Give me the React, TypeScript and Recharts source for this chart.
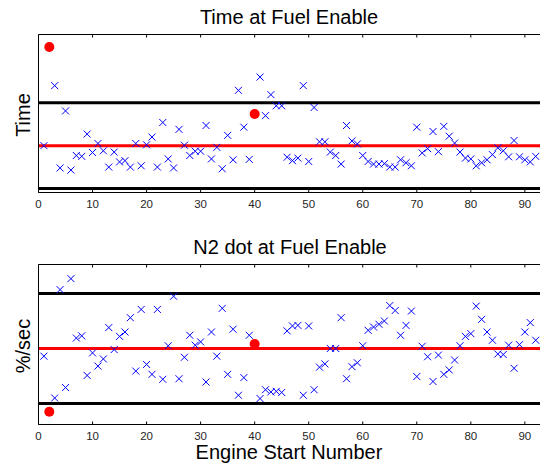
import { ReferenceLine, Scatter, ScatterChart, XAxis, YAxis } from "recharts";

// engine start number runs 1..92, one value per start
const timeAtFuelEnable = [
  0.0, 2.3, 1.4, -0.52, 0.81, -0.57, -0.23, -0.25, 0.27, -0.16,
  0.05, -0.12, -0.5, -0.15, -0.38, -0.35, -0.5, 0.05, -0.47, 0.02,
  0.2, -0.5, 0.54, -0.31, -0.52, 0.38, 0.01, -0.23, -0.13, -0.13,
  0.47, -0.31, -0.04, -0.54, 0.24, -0.33, 1.29, 0.43, -0.32, 0.74,
  1.6, 0.7, 1.19, 0.93, 0.93, -0.27, -0.35, -0.29, 1.4, -0.37,
  0.89, 0.09, 0.09, -0.15, -0.23, -0.43, 0.47, 0.11, 0.04, -0.23,
  -0.37, -0.43, -0.43, -0.42, -0.5, -0.5, -0.33, -0.4, -0.47, 0.43,
  -0.17, -0.07, 0.33, -0.14, 0.45, 0.22, 0.06, -0.15, -0.29, -0.31,
  -0.47, -0.4, -0.33, -0.21, -0.05, -0.12, -0.26, 0.12, -0.26, -0.33,
  -0.38, -0.25,
];

const n2DotAtFuelEnable = [
  -0.14, -1.15, -0.9, 1.07, -0.71, 1.27, 0.19, 0.23, -0.49, -0.08,
  -0.32, -0.19, 0.38, -0.02, 0.22, 0.3, 0.56, -0.41, 0.71, -0.29,
  -0.47, 0.71, -0.56, 0.05, 0.95, -0.55, -0.16, 0.24, 0.06, 0.12,
  -0.61, 0.3, -0.14, 0.73, -0.47, 0.35, -0.85, -0.53, 0.24, 0.08,
  -0.91, -0.75, -0.79, -0.78, -0.8, 0.32, 0.41, 0.42, -0.85, 0.41,
  -0.75, -0.34, -0.28, 0.0, 0.0, 0.56, -0.55, -0.33, -0.26, 0.05,
  0.33, 0.39, 0.44, 0.5, 0.78, 0.69, 0.24, 0.42, 0.68, -0.51,
  0.04, -0.15, -0.6, -0.12, -0.47, -0.39, -0.21, 0.05, 0.22, 0.27,
  0.77, 0.53, 0.3, 0.15, -0.1, -0.11, 0.06, -0.36, 0.07, 0.3,
  0.47, 0.15,
];

// starts highlighted with a red dot
const flaggedStarts = [2, 40];

const meanLine = 0;
const limitLines = [1, -1];
const xTicks = [0, 10, 20, 30, 40, 50, 60, 70, 80, 90];

const FONT = "'Liberation Sans', Arial, sans-serif";

function toPoints(values: number[]) {
  return values.map((v, i) => ({ n: i + 1, v }));
}

function Cross(props: any) {
  const { cx, cy } = props;
  if (cx == null || cy == null) return <g />;
  const s = 3.5;
  return (
    <g stroke="#0000ff" strokeWidth={1} fill="none">
      <line x1={cx - s} y1={cy - s} x2={cx + s} y2={cy + s} />
      <line x1={cx - s} y1={cy + s} x2={cx + s} y2={cy - s} />
    </g>
  );
}

function Dot(props: any) {
  const { cx, cy } = props;
  if (cx == null || cy == null) return <g />;
  return <circle cx={cx} cy={cy} r={5} fill="#ff0000" />;
}

function ControlPanel({
  values,
  yDomain,
  height,
  bottom,
}: {
  values: number[];
  yDomain: [number, number];
  height: number;
  bottom: number;
}) {
  const pts = toPoints(values);
  const crosses = pts.filter(p => !flaggedStarts.includes(p.n));
  const dots = pts.filter(p => flaggedStarts.includes(p.n));
  return (
    <ScatterChart width={540} height={height} margin={{ top: 33.5, right: 0, left: 37.5, bottom }}>
      <XAxis
        xAxisId="bottom"
        type="number"
        dataKey="n"
        domain={[0, 92.8]}
        allowDataOverflow
        ticks={xTicks}
        height={30}
        tickSize={-3}
        tickMargin={10.5}
        stroke="#000"
        tick={{ fontSize: 11.5, fill: "#262626", fontFamily: FONT }}
      />
      <XAxis
        xAxisId="top"
        orientation="top"
        type="number"
        dataKey="n"
        domain={[0, 92.8]}
        allowDataOverflow
        ticks={xTicks}
        height={1}
        tickSize={-3}
        stroke="#000"
        tick={() => <g />}
      />
      <YAxis
        type="number"
        dataKey="v"
        domain={yDomain}
        allowDataOverflow
        width={1}
        tick={false}
        tickLine={false}
        stroke="#000"
      />
      {limitLines.map(y => (
        <ReferenceLine key={y} xAxisId="bottom" y={y} stroke="#000" strokeWidth={3} />
      ))}
      <ReferenceLine xAxisId="bottom" y={meanLine} stroke="#ff0000" strokeWidth={3} />
      <Scatter xAxisId="bottom" data={crosses} shape={Cross} isAnimationActive={false} />
      <Scatter xAxisId="bottom" data={dots} shape={Dot} isAnimationActive={false} />
    </ScatterChart>
  );
}

export default function App() {
  return (
    <div style={{ position: "relative", width: 540, height: 466, background: "#fff", overflow: "hidden" }}>
      <style>{"body{margin:0}"}</style>
      <div style={{ position: "absolute", left: 0, top: 0 }}>
        <ControlPanel values={timeAtFuelEnable} yDomain={[-1.093, 2.593]} height={230} bottom={7.5} />
      </div>
      <div style={{ position: "absolute", left: 0, top: 230 }}>
        <ControlPanel values={n2DotAtFuelEnable} yDomain={[-1.382, 1.527]} height={236} bottom={11.5} />
      </div>
      <svg
        width={540}
        height={466}
        style={{ position: "absolute", left: 0, top: 0, pointerEvents: "none" }}
        fontFamily={FONT}
        fill="#000"
      >
        <text x={289} y={24} fontSize={20} textAnchor="middle">Time at Fuel Enable</text>
        <text x={290} y={254} fontSize={20} textAnchor="middle">N2 dot at Fuel Enable</text>
        <text x={289} y={459} fontSize={20} textAnchor="middle">Engine Start Number</text>
        <text x={29.5} y={115} fontSize={20} textAnchor="middle" transform="rotate(-90 29.5 115)">Time</text>
        <text x={30} y={346} fontSize={20} textAnchor="middle" transform="rotate(-90 30 346)">%/sec</text>
      </svg>
    </div>
  );
}
